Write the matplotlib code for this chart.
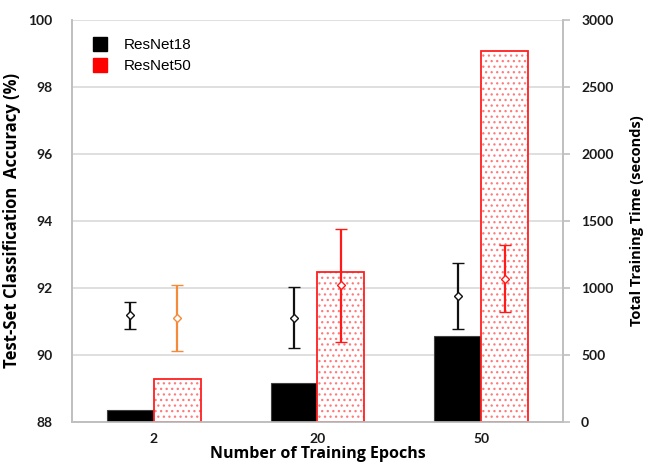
import matplotlib
matplotlib.use("Agg")
import matplotlib.pyplot as plt
from matplotlib.font_manager import FontProperties
import numpy as np

plt.rcParams["hatch.linewidth"] = 0.9

# Data
epochs = ["2", "20", "50"]
models = ["ResNet18", "ResNet50"]
train_time = {
    "ResNet18": [87, 289, 640],
    "ResNet50": [319, 1118, 2768],
}
acc_mean = {
    "ResNet18": [91.18, 91.1, 91.75],
    "ResNet50": [91.09, 92.07, 92.27],
}
acc_err = {
    "ResNet18": [0.40, 0.91, 0.98],
    "ResNet50": [0.98, 1.70, 1.00],
}
err_colors = {
    "ResNet18": ["#111111", "#111111", "#111111"],
    "ResNet50": ["#F58A3A", "#FF1A1A", "#FF1A1A"],
}
left_ticks = [88, 90, 92, 94, 96, 98, 100]
right_ticks = [0, 500, 1000, 1500, 2000, 2500, 3000]

tick_font = dict(family="Lato", weight="bold", size=10)

fig = plt.figure(figsize=(6.51, 4.68), dpi=100)
ax = fig.add_axes([0.1106, 0.0989, 0.7542, 0.8584])
ax_t = ax.twinx()

x = np.arange(len(epochs))
w = 0.287

# Bars for training time on the right axis
ax_t.bar(x - w / 2, train_time["ResNet18"], width=w, color="black",
         edgecolor="#404040", linewidth=0.8, zorder=3)
# dotted fill first, then the solid red outline on top
ax_t.bar(x + w / 2, train_time["ResNet50"], width=w, facecolor="white",
         edgecolor="#FF7A7A", hatch="...", linewidth=0, zorder=3)
ax_t.bar(x + w / 2, train_time["ResNet50"], width=w, facecolor="none",
         edgecolor="#FF2020", linewidth=1.3, zorder=3.5)
ax_t.set_ylim(0, 3000)
ax_t.set_yticks(right_ticks)
ax_t.yaxis.grid(True, color="#D9D9D9", linewidth=1.2, zorder=0)
ax_t.set_axisbelow(True)

# Accuracy error bars on the left axis, drawn above the bars
ax.set_zorder(ax_t.get_zorder() + 1)
ax.patch.set_visible(False)
for i, m in enumerate(models):
    xs = x + (i - 0.5) * w
    for j in range(len(epochs)):
        c = err_colors[m][j]
        ax.errorbar(xs[j], acc_mean[m][j], yerr=acc_err[m][j], fmt="D",
                    color=c, ecolor=c, mfc="white", mec=c, ms=4, mew=1.0,
                    elinewidth=1.6, capsize=4, capthick=1.6)
ax.set_ylim(88, 100)
ax.set_yticks(left_ticks)
ax.set_xlim(-0.5, len(epochs) - 0.5)
ax.set_xticks(x)
ax.set_xticklabels(epochs)

# Axis styling
for a in (ax, ax_t):
    for s in a.spines.values():
        s.set_color("#BFBFBF")
        s.set_linewidth(1.2)
    a.spines["top"].set_visible(False)
ax.tick_params(axis="y", length=0, pad=14)
ax.tick_params(axis="x", length=0, pad=8)
ax_t.tick_params(axis="y", length=5, color="#BFBFBF", width=1.2, pad=8)
for lab in ax.get_yticklabels() + ax.get_xticklabels() + ax_t.get_yticklabels():
    lab.set_fontproperties(FontProperties(**tick_font))
    lab.set_color("#1A1A1A")

ax.set_ylabel("Test-Set Classification  Accuracy (%)", labelpad=5,
              family="Open Sans", weight="bold", size=12)
ax_t.set_ylabel("Total Training Time (seconds)", labelpad=12,
                family="Open Sans", weight="bold", size=10.5)
ax.set_xlabel("Number of Training Epochs", labelpad=1,
              family="Open Sans", weight="bold", size=11.5)

# Legend
handles = [
    plt.Line2D([], [], marker="s", ls="none", color="black", ms=10),
    plt.Line2D([], [], marker="s", ls="none", color="red", ms=10),
]
ax.legend(handles, models, loc="upper left", frameon=False,
          prop=dict(family="Liberation Sans", size=11),
          bbox_to_anchor=(0.0, 1.0), handletextpad=1.0, labelspacing=0.45,
          borderaxespad=0.8, handlelength=1.2)

fig.savefig("out.png", dpi=100)
